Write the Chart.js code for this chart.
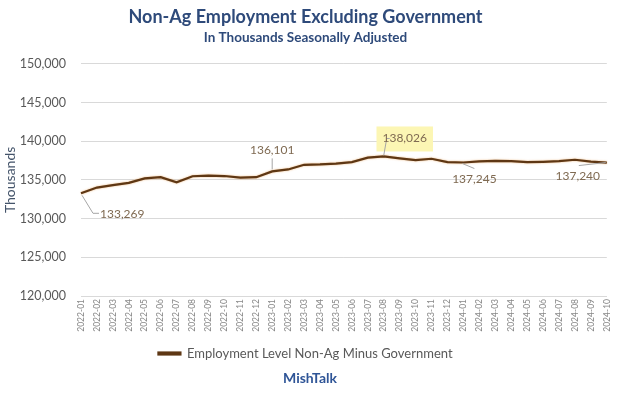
<!DOCTYPE html>
<html>
<head>
<meta charset="utf-8">
<script src="https://cdn.jsdelivr.net/npm/chart.js@4.4.1/dist/chart.umd.min.js"></script>
<style>
  html, body { margin: 0; padding: 0; background: #fff; }
  #wrap { position: relative; width: 620px; height: 395px; }
  #brand {
    position: absolute; left: 0; width: 620px; top: 369px;
    text-align: center; font: bold 14px Lato, sans-serif; color: #2f5597;
  }
</style>
</head>
<body>
<div id="wrap">
  <canvas id="chart" width="620" height="395"></canvas>
  <div id="brand">MishTalk</div>
</div>
<script>
const months = [
  "2022-01", "2022-02", "2022-03", "2022-04", "2022-05", "2022-06", "2022-07", "2022-08", "2022-09", "2022-10", "2022-11", "2022-12",
  "2023-01", "2023-02", "2023-03", "2023-04", "2023-05", "2023-06", "2023-07", "2023-08", "2023-09", "2023-10", "2023-11", "2023-12",
  "2024-01", "2024-02", "2024-03", "2024-04", "2024-05", "2024-06", "2024-07", "2024-08", "2024-09", "2024-10",
];
const employment = [
  133269, 134010, 134320, 134620, 135200, 135350, 134700, 135470, 135550, 135500, 135300, 135350,
  136101, 136350, 136950, 137000, 137100, 137300, 137870, 138026, 137780, 137560, 137730, 137300,
  137245, 137400, 137450, 137430, 137300, 137340, 137420, 137600, 137350, 137240,
];
const yTicks = [120000, 125000, 130000, 135000, 140000, 145000, 150000];
const labelledMonths = ["2022-01", "2023-01", "2023-08", "2024-01", "2024-10"];

const fmt = (v) => v.toLocaleString("en-US");

// callout placement for each labelled month: text offset + leader path, relative to the point
const callouts = {
  "2022-01": { tx: 19, ty: 21, align: "left", leader: [[1, 2], [12, 20], [18, 20]] },
  "2023-01": { tx: 0, ty: -21, align: "center", leader: [[0, -2], [0, -13]] },
  "2023-08": { tx: 21, ty: -18, align: "center", box: true, leader: [[0, -1], [3, -18], [6, -18]] },
  "2024-01": { tx: 11, ty: 17, align: "center", leader: [[-1, 1], [11, 6]] },
  "2024-10": { tx: -29, ty: 14, align: "center", leader: [[-1, 0], [-28, 3]] },
};

const calloutPlugin = {
  id: "callouts",
  afterDatasetsDraw(chart) {
    const ctx = chart.ctx;
    const meta = chart.getDatasetMeta(0);
    ctx.save();
    ctx.font = "12px Lato, sans-serif";
    ctx.textBaseline = "middle";
    labelledMonths.forEach((m) => {
      const i = months.indexOf(m);
      const c = callouts[m];
      const pt = meta.data[i];
      const text = fmt(employment[i]);
      const tx = pt.x + c.tx, ty = pt.y + c.ty;
      if (c.box) {
        const w = ctx.measureText(text).width;
        ctx.fillStyle = "#fcf6b4";
        ctx.fillRect(tx - w / 2 - 6, ty - 12, w + 12, 25);
      }
      ctx.strokeStyle = "#a6a6a6";
      ctx.lineWidth = 1;
      ctx.beginPath();
      c.leader.forEach(([dx, dy], k) => {
        if (k === 0) ctx.moveTo(pt.x + dx, pt.y + dy);
        else ctx.lineTo(pt.x + dx, pt.y + dy);
      });
      ctx.stroke();
      ctx.fillStyle = "#7f6a52";
      ctx.textAlign = c.align;
      ctx.fillText(text, tx, ty);
    });
    ctx.restore();
  },
};

// faint orange halo under the brown line, like the original
const glowPlugin = {
  id: "glow",
  beforeDatasetDraw(chart) {
    chart.ctx.save();
    chart.ctx.shadowColor = "rgba(226, 150, 70, 0.7)";
    chart.ctx.shadowBlur = 2;
  },
  afterDatasetDraw(chart) {
    chart.ctx.restore();
  },
};

new Chart(document.getElementById("chart"), {
  type: "line",
  data: {
    labels: months,
    datasets: [
      {
        label: "Employment Level Non-Ag Minus Government",
        data: employment,
        borderColor: "#5e3714",
        backgroundColor: "#6b4422",
        borderWidth: 2.2,
        pointRadius: 0,
        tension: 0,
      },
    ],
  },
  options: {
    responsive: false,
    animation: false,
    layout: { padding: { left: 0, right: 9, bottom: 25, top: 0 } },
    scales: {
      x: {
        offset: false,
        afterFit: (scale) => { scale.height = 47; },
        grid: { display: false, drawTicks: false },
        border: { color: "#d9d9d9" },
        ticks: {
          autoSkip: false,
          maxRotation: 90,
          minRotation: 90,
          padding: 3,
          color: "#888888",
          font: { family: "Lato, sans-serif", size: 8.5 },
        },
      },
      y: {
        min: yTicks[0],
        max: yTicks[yTicks.length - 1],
        afterBuildTicks: (axis) => { axis.ticks = yTicks.map((v) => ({ value: v })); },
        afterFit: (scale) => { scale.width = 81; },
        grid: { color: "#d9d9d9", drawTicks: false },
        border: { display: false },
        ticks: {
          padding: 15,
          color: "#595959",
          font: { family: "Lato, sans-serif", size: 12.5 },
          callback: (v) => fmt(v),
        },
        title: {
          display: true,
          text: "Thousands",
          color: "#44546a",
          padding: { top: 2, bottom: 0 },
          font: { family: "Lato, sans-serif", size: 14 },
        },
      },
    },
    plugins: {
      title: {
        display: true,
        text: "Non-Ag Employment Excluding Government",
        color: "#2e4a7a",
        padding: { top: 6, bottom: 0 },
        font: { family: "Lato, sans-serif", size: 18, weight: "bold" },
      },
      subtitle: {
        display: true,
        text: "In Thousands Seasonally Adjusted",
        color: "#2e4a7a",
        padding: { top: 2, bottom: 18 },
        font: { family: "Lato, sans-serif", size: 13.5, weight: "bold" },
      },
      legend: {
        position: "bottom",
        labels: {
          boxWidth: 22,
          boxHeight: 2,
          padding: 4,
          color: "#595959",
          font: { family: "Lato, sans-serif", size: 13 },
        },
      },
      tooltip: { enabled: false },
    },
  },
  plugins: [glowPlugin, calloutPlugin],
});
</script>
</body>
</html>
